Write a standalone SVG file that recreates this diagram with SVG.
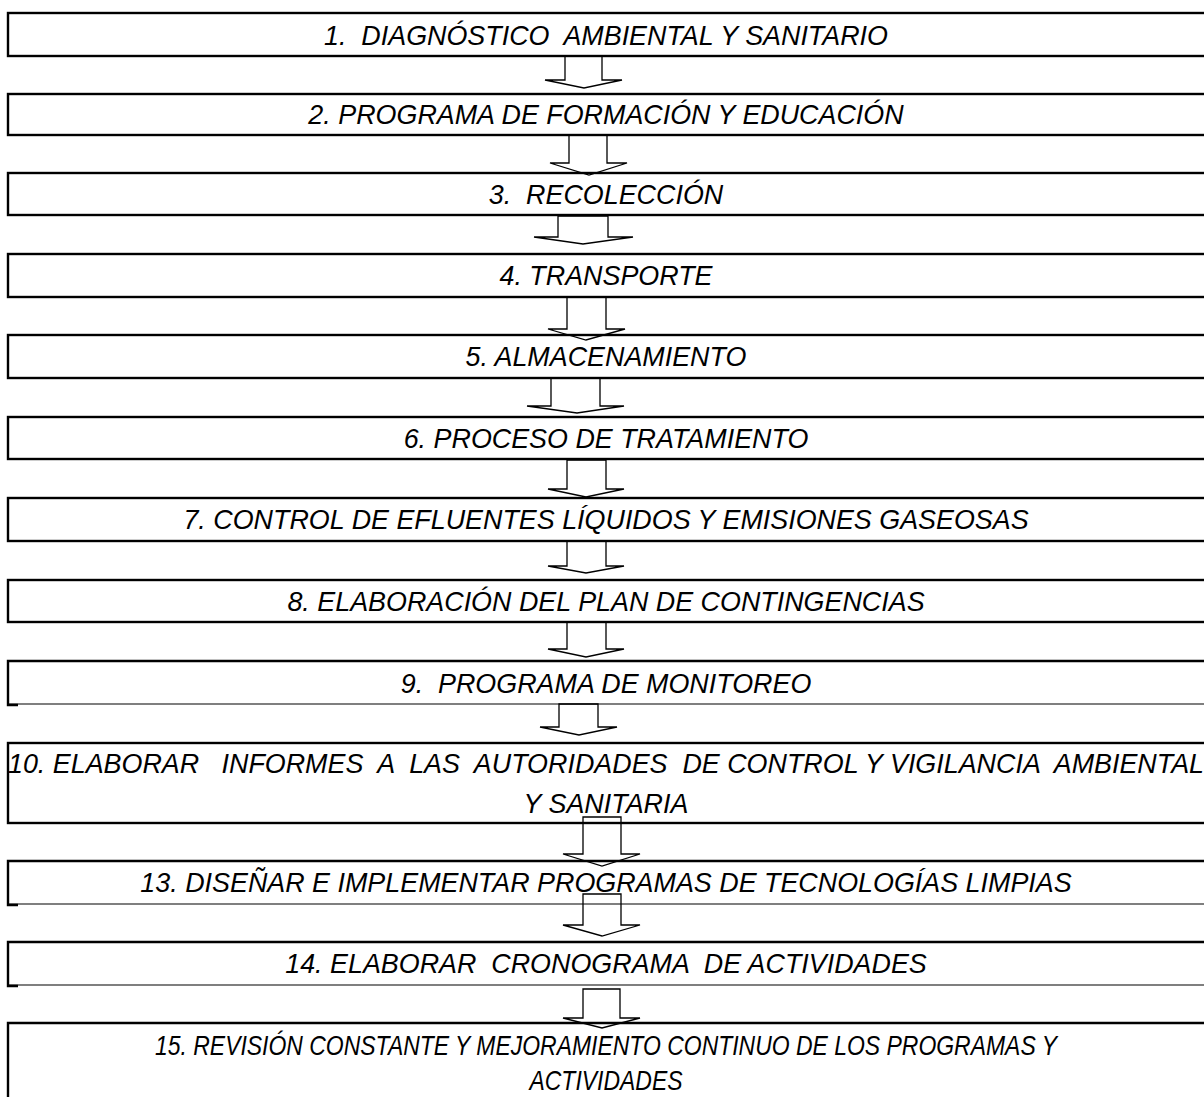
<svg xmlns="http://www.w3.org/2000/svg" width="1204" height="1097" viewBox="0 0 1204 1097">
<style>
.box{fill:#fff;stroke:#000;stroke-width:2.4}
.edge{fill:none;stroke:#000;stroke-width:2.4}
.thin{fill:none;stroke:#000;stroke-width:1.2}
.arrow{fill:none;stroke:#000;stroke-width:1.3;stroke-linejoin:miter}
.t{font-family:"Liberation Sans",Arial,sans-serif;font-style:italic;font-size:28px;fill:#000;text-anchor:middle;white-space:pre}
</style>
<rect width="1204" height="1097" fill="#fff"/>
<g id="n1"><rect class="box" x="8" y="13" width="1210" height="43"/><text class="t" x="606" y="45" transform="matrix(0.96 0 0 1 24.24 0)" xml:space="preserve">1.  DIAGNÓSTICO  AMBIENTAL Y SANITARIO</text></g>
<g id="n2"><rect class="box" x="8" y="94" width="1210" height="41"/><text class="t" x="606" y="124" transform="matrix(0.96 0 0 1 24.24 0)">2. PROGRAMA DE FORMACIÓN Y EDUCACIÓN</text></g>
<g id="n3"><rect class="box" x="8" y="173" width="1210" height="42"/><text class="t" x="606" y="204" transform="matrix(0.96 0 0 1 24.24 0)" xml:space="preserve">3.  RECOLECCIÓN</text></g>
<g id="n4"><rect class="box" x="8" y="254" width="1210" height="43"/><text class="t" x="606" y="285" transform="matrix(0.96 0 0 1 24.24 0)">4. TRANSPORTE</text></g>
<g id="n5"><rect class="box" x="8" y="335" width="1210" height="43"/><text class="t" x="606" y="366" transform="matrix(0.96 0 0 1 24.24 0)">5. ALMACENAMIENTO</text></g>
<g id="n6"><rect class="box" x="8" y="417" width="1210" height="42"/><text class="t" x="606" y="448" transform="matrix(0.96 0 0 1 24.24 0)">6. PROCESO DE TRATAMIENTO</text></g>
<g id="n7"><rect class="box" x="8" y="498" width="1210" height="43"/><text class="t" x="606" y="529" transform="matrix(0.96 0 0 1 24.24 0)">7. CONTROL DE EFLUENTES LÍQUIDOS Y EMISIONES GASEOSAS</text></g>
<g id="n8"><rect class="box" x="8" y="580" width="1210" height="42"/><text class="t" x="606" y="611" transform="matrix(0.96 0 0 1 24.24 0)">8. ELABORACIÓN DEL PLAN DE CONTINGENCIAS</text></g>
<g id="n9"><path class="edge" d="M1210,661 H8 V705 H18"/><path class="thin" d="M8,704 H1210"/><text class="t" x="606" y="693" transform="matrix(0.96 0 0 1 24.24 0)" xml:space="preserve">9.  PROGRAMA DE MONITOREO</text></g>
<g id="n10"><rect class="box" x="8" y="743" width="1210" height="80"/><text class="t" x="606" y="773" transform="matrix(0.96 0 0 1 24.24 0)" xml:space="preserve">10. ELABORAR   INFORMES  A  LAS  AUTORIDADES  DE CONTROL Y VIGILANCIA  AMBIENTAL</text><text class="t" x="606" y="813" transform="matrix(0.96 0 0 1 24.24 0)">Y SANITARIA</text></g>
<g id="n13"><path class="edge" d="M1210,861 H8 V905 H18"/><path class="thin" d="M8,904 H1210"/><text class="t" x="606" y="892" transform="matrix(0.96 0 0 1 24.24 0)">13. DISEÑAR E IMPLEMENTAR PROGRAMAS DE TECNOLOGÍAS LIMPIAS</text></g>
<g id="n14"><path class="edge" d="M1210,942 H8 V986 H18"/><path class="thin" d="M8,985 H1210"/><text class="t" x="606" y="973" transform="matrix(0.96 0 0 1 24.24 0)" xml:space="preserve">14. ELABORAR  CRONOGRAMA  DE ACTIVIDADES</text></g>
<g id="n15"><path class="edge" d="M1210,1023 H8 V1110"/><text class="t" x="606" y="1055" transform="matrix(0.82 0 0 1 109.08 0)">15. REVISIÓN CONSTANTE Y MEJORAMIENTO CONTINUO DE LOS PROGRAMAS Y</text><text class="t" x="606" y="1090" transform="matrix(0.82 0 0 1 109.08 0)">ACTIVIDADES</text></g>
<g id="connectors">
<path class="arrow" d="M565,56 V80 H545 L584,88 L622,80 H602 V56 Z"/>
<path class="arrow" d="M569,135 V163 H550 L589,175 L627,163 H607 V135 Z"/>
<path class="arrow" d="M558,216 V237 H534 L583,244 L633,237 H608 V216 Z"/>
<path class="arrow" d="M567,297 V329 H548 L586,340 L625,329 H606 V297 Z"/>
<path class="arrow" d="M551,378 V406 H527 L577,413 L624,406 H600 V378 Z"/>
<path class="arrow" d="M567,460 V489 H548 L586,497 L624,489 H606 V460 Z"/>
<path class="arrow" d="M567,541 V566 H548 L586,573 L624,566 H606 V541 Z"/>
<path class="arrow" d="M567,622 V649 H548 L586,657 L624,649 H606 V622 Z"/>
<path class="arrow" d="M559,704 V727 H540 L579,735 L617,727 H598 V704 Z"/>
<path class="arrow" d="M583,817 V854 H563 L602,866 L640,854 H621 V817 Z"/>
<path class="arrow" d="M583,894 V925 H563 L602,936 L640,925 H621 V894 Z"/>
<path class="arrow" d="M583,989 V1018 H563 L602,1028 L640,1018 H620 V989 Z"/>
</g>
</svg>
